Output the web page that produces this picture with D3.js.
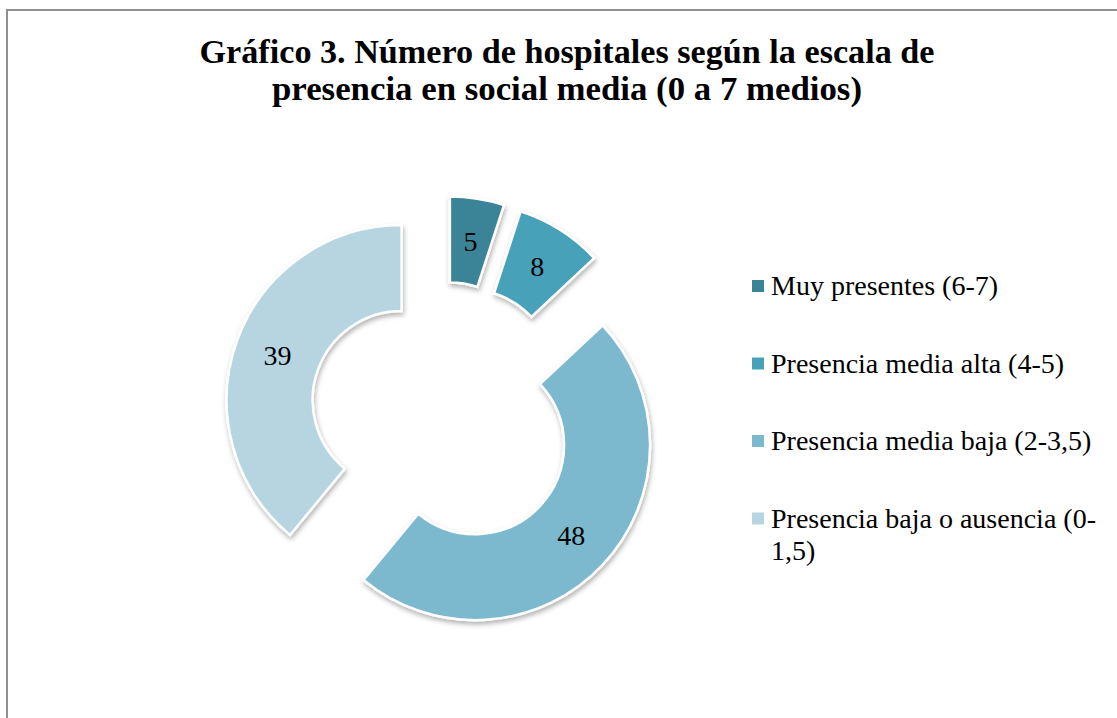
<!DOCTYPE html>
<html>
<head>
<meta charset="utf-8">
<script src="https://cdn.jsdelivr.net/npm/d3@7"></script>
<style>
  body { margin: 0; background: #fff; }
  svg { display: block; }
  text { font-family: 'Liberation Serif', 'DejaVu Serif', serif; fill: #000; }
</style>
</head>
<body>
<div id="chart"></div>
<script>
// data
var categories = ['Muy presentes (6-7)', 'Presencia media alta (4-5)', 'Presencia media baja (2-3,5)', 'Presencia baja o ausencia (0-1,5)']
var legendLines = [['Muy presentes (6-7)'], ['Presencia media alta (4-5)'], ['Presencia media baja (2-3,5)'], ['Presencia baja o ausencia (0-', '1,5)']]
var values = [5, 8, 48, 39]
var colors = ['#3a8498', '#46a1b9', '#7bb9cf', '#b6d5e0']
var titleLines = ['Gráfico 3. Número de hospitales según la escala de', 'presencia en social media (0 a 7 medios)']
var titleWidths = [735, 590]

var width = 1117
var height = 718

var svg = d3.select('#chart')
    .append('svg')
    .attr('width', width)
    .attr('height', height)

// drop shadow like the office chart
var defs = svg.append('defs')
var f = defs.append('filter').attr('id', 'shadow')
    .attr('x', '-20%').attr('y', '-20%').attr('width', '140%').attr('height', '140%')
f.append('feDropShadow')
    .attr('dx', 1).attr('dy', 3).attr('stdDeviation', 2.5)
    .attr('flood-color', '#000').attr('flood-opacity', 0.3)

// frame
svg.append('rect')
    .attr('x', 7).attr('y', 10)
    .attr('width', 1300).attr('height', 900)
    .style('fill', 'none')
    .style('stroke', '#8f8f8f')
    .style('stroke-width', 2)

// title
svg.append('g').selectAll('text')
    .data(titleLines)
    .enter().append('text')
    .attr('x', 567)
    .attr('y', function (d, i) { return 63 + i * 37 })
    .attr('text-anchor', 'middle')
    .attr('textLength', function (d, i) { return titleWidths[i] })
    .attr('lengthAdjust', 'spacingAndGlyphs')
    .style('font-size', '33px')
    .style('font-weight', 'bold')
    .text(function (d) { return d })

// donut
var cx = 443, cy = 415
var outerR = 175, innerR = 89, explode = 44

var pie = d3.pie().sort(null).value(function (d) { return d })
var arc = d3.arc().innerRadius(innerR).outerRadius(outerR)
var arcs = pie(values)

var g = svg.append('g')
    .attr('transform', 'translate(' + cx + ',' + cy + ')')

function offset(d) {
    var a = (d.startAngle + d.endAngle) / 2
    return [Math.sin(a) * explode, -Math.cos(a) * explode]
}

var slice = g.selectAll('g.slice')
    .data(arcs)
    .enter().append('g')
    .attr('class', 'slice')
    .attr('transform', function (d) { var o = offset(d); return 'translate(' + o[0] + ',' + o[1] + ')' })

slice.append('path')
    .attr('d', arc)
    .style('fill', function (d, i) { return colors[i] })
    .style('stroke', '#fff')
    .style('stroke-width', 2.5)
    .style('stroke-linejoin', 'miter')
    .attr('filter', 'url(#shadow)')

slice.append('text')
    .attr('transform', function (d) { return 'translate(' + arc.centroid(d) + ')' })
    .attr('text-anchor', 'middle')
    .attr('dy', '0.35em')
    .style('font-size', '28px')
    .text(function (d) { return d.value })

// legend
var legend = svg.append('g').selectAll('g')
    .data(categories)
    .enter().append('g')
    .attr('transform', function (d, i) { return 'translate(752,' + (286 + i * 77.5) + ')' })

legend.append('rect')
    .attr('x', 0).attr('y', -6)
    .attr('width', 12).attr('height', 12)
    .style('fill', function (d, i) { return colors[i] })

legend.append('text')
    .attr('x', 19)
    .attr('y', 9)
    .style('font-size', '28px')
    .selectAll('tspan')
    .data(function (d, i) { return legendLines[i] })
    .enter().append('tspan')
    .attr('x', 19)
    .attr('dy', function (d, i) { return i === 0 ? 0 : 32 })
    .text(function (d) { return d })
</script>
</body>
</html>
